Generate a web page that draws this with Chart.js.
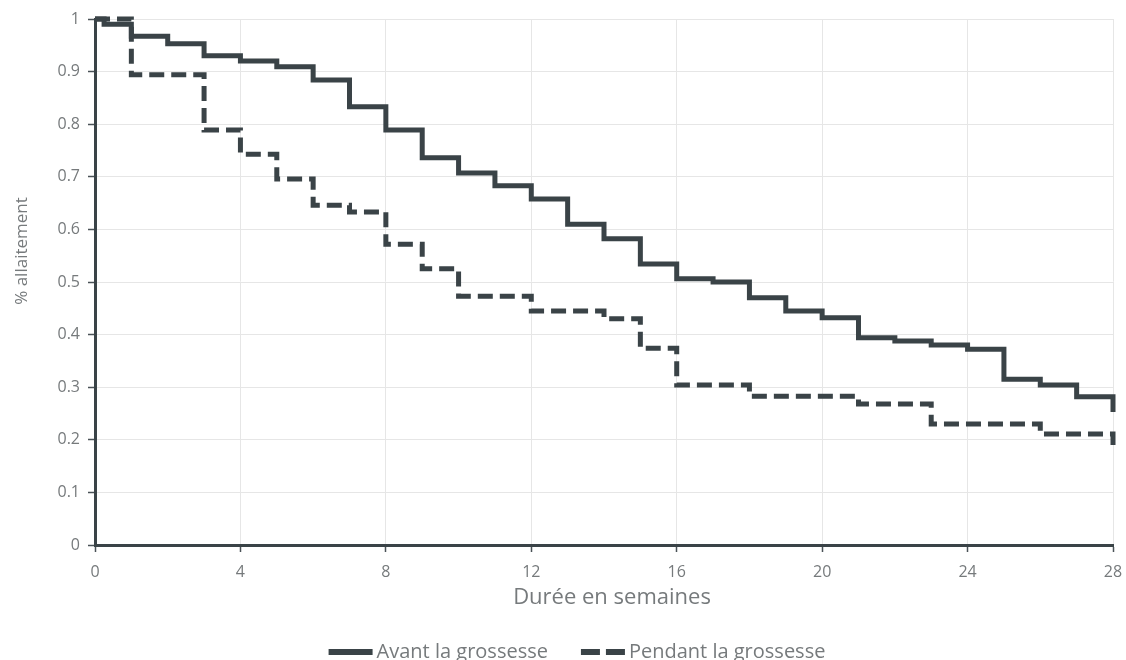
<!DOCTYPE html>
<html>
<head>
<meta charset="utf-8">
<script src="https://cdn.jsdelivr.net/npm/chart.js@4.4.1/dist/chart.umd.min.js"></script>
<style>
  html, body { margin: 0; padding: 0; background: #fff; }
</style>
</head>
<body>
<canvas id="grafico" width="1126" height="660"></canvas>
<script>
// Données (courbes de survie en escalier)
const semainesAvant = [0, 0.25, 1, 2, 3, 4, 5, 6, 7, 8, 9, 10, 11, 12, 13, 14, 15, 16, 17, 18, 19, 20, 21, 22, 23, 24, 25, 26, 27, 28];
const valeursAvant = [1, 0.99, 0.967, 0.953, 0.93, 0.92, 0.909, 0.884, 0.833, 0.789, 0.736, 0.707, 0.683, 0.658, 0.61, 0.582, 0.534, 0.506, 0.5, 0.47, 0.445, 0.432, 0.394, 0.388, 0.38, 0.372, 0.315, 0.304, 0.282, 0.253];

const semainesPendant = [0, 1, 3, 4, 5, 6, 7, 8, 9, 10, 12, 14, 15, 16, 18, 21, 23, 26, 28];
const valeursPendant = [1, 0.894, 0.789, 0.743, 0.696, 0.646, 0.633, 0.572, 0.525, 0.473, 0.445, 0.43, 0.374, 0.304, 0.283, 0.268, 0.23, 0.211, 0.19];

const ticksX = [0, 4, 8, 12, 16, 20, 24, 28];
const ticksY = [0, 0.1, 0.2, 0.3, 0.4, 0.5, 0.6, 0.7, 0.8, 0.9, 1];

const titreX = "Durée en semaines";
const titreY = "% allaitement";

const couleurLigne = "#3a4347";
const couleurTexte = "#767a7c";
const police = "'Open Sans', 'Liberation Sans', sans-serif";

const points = (xs, ys) => xs.map((x, i) => ({ x: x, y: ys[i] }));

// Titres des axes et légende dessinés à la main
const habillagePlugin = {
  id: "habillage",
  afterDraw(chart) {
    const ctx = chart.ctx;
    ctx.save();
    ctx.fillStyle = couleurTexte;
    ctx.textAlign = "center";
    ctx.textBaseline = "middle";

    // titre axe X
    ctx.font = "22px " + police;
    ctx.fillText(titreX, 612, 598);

    // titre axe Y
    ctx.save();
    ctx.translate(22, 251);
    ctx.rotate(-Math.PI / 2);
    ctx.font = "17px " + police;
    ctx.fillText(titreY, 0, 0);
    ctx.restore();

    // légende
    const y = 652;
    const largeurTrait = 44;
    const espace = 4;
    const ecartItems = 33;
    ctx.font = "20px " + police;
    ctx.textAlign = "left";
    const items = chart.data.datasets.map((ds) => ({
      ds: ds,
      w: largeurTrait + espace + ctx.measureText(ds.label).width,
    }));
    const total = items.reduce((s, it) => s + it.w, 0) + ecartItems * (items.length - 1);
    let x = 577 - total / 2;
    items.forEach((it) => {
      ctx.strokeStyle = it.ds.borderColor;
      ctx.lineWidth = 6;
      ctx.setLineDash(it.ds.borderDash ? [19, 6] : []);
      ctx.beginPath();
      ctx.moveTo(x, y);
      ctx.lineTo(x + largeurTrait, y);
      ctx.stroke();
      ctx.setLineDash([]);
      ctx.fillText(it.ds.label, x + largeurTrait + espace, y);
      x += it.w + ecartItems;
    });
    ctx.restore();
  },
};

const ctx = document.getElementById("grafico").getContext("2d");
const chart = new Chart(ctx, {
  type: "line",
  data: {
    datasets: [
      {
        label: "Avant la grossesse",
        data: points(semainesAvant, valeursAvant),
        borderColor: couleurLigne,
        borderWidth: 5,
        stepped: true,
        pointRadius: 0,
        fill: false,
      },
      {
        label: "Pendant la grossesse",
        data: points(semainesPendant, valeursPendant),
        borderColor: couleurLigne,
        borderWidth: 5,
        borderDash: [15, 7],
        stepped: true,
        pointRadius: 0,
        fill: false,
      },
    ],
  },
  options: {
    responsive: false,
    animation: false,
    clip: false,
    layout: { padding: { left: 0, top: 19, right: 13, bottom: 0 } },
    plugins: {
      legend: { display: false },
      tooltip: { enabled: false },
    },
    scales: {
      x: {
        type: "linear",
        min: 0,
        max: 28,
        afterBuildTicks: (scale) => {
          scale.ticks = ticksX.map((v) => ({ value: v }));
        },
        afterFit: (scale) => {
          scale.height = 115;
          scale.paddingRight = 0;
        },
        ticks: {
          color: couleurTexte,
          font: { family: police, size: 16 },
          padding: 11,
          maxRotation: 0,
        },
        grid: {
          color: "#e6e6e6",
          lineWidth: 1,
          tickLength: 7,
          tickColor: "#4a5257",
          tickWidth: 1.5,
        },
        border: { color: couleurLigne, width: 3 },
      },
      y: {
        min: 0,
        max: 1,
        afterBuildTicks: (scale) => {
          scale.ticks = ticksY.map((v) => ({ value: v }));
        },
        afterFit: (scale) => {
          scale.width = 95;
        },
        ticks: {
          color: couleurTexte,
          font: { family: police, size: 16 },
          padding: 8,
          callback: (v) => String(Math.round(v * 10) / 10),
        },
        grid: {
          color: "#e6e6e6",
          lineWidth: 1,
          tickLength: 7,
          tickColor: "#4a5257",
          tickWidth: 1.5,
        },
        border: { color: couleurLigne, width: 3 },
      },
    },
  },
  plugins: [habillagePlugin],
});
</script>
</body>
</html>
